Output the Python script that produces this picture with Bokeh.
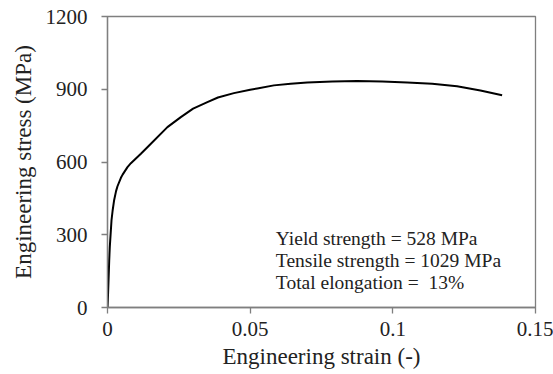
from bokeh.plotting import figure
from bokeh.models import Range1d, FixedTicker, CustomJSTickFormatter, Label, ColumnDataSource
from bokeh.embed import file_html
from bokeh.resources import INLINE

strain = [0.0, 0.0002, 0.0006, 0.0008, 0.0014, 0.0018, 0.0023, 0.003, 0.0035, 0.0047,
          0.0053, 0.007, 0.0082, 0.0117, 0.0152, 0.021, 0.0257, 0.030, 0.035, 0.0387,
          0.0443, 0.050, 0.0525, 0.0583, 0.0642, 0.070, 0.0788, 0.0875, 0.0963, 0.105,
          0.1138, 0.1225, 0.1307, 0.1383]
stress = [0, 57, 194, 249, 359, 400, 441, 480, 500, 535,
          548, 579, 595, 634, 675, 744, 785, 820, 847, 866,
          884, 898, 903, 916, 923, 928, 932, 934, 932, 928,
          923, 912, 895, 875]
x_ticks = [0, 0.05, 0.1, 0.15]
y_ticks = [0, 300, 600, 900, 1200]
notes = ["Yield strength = 528 MPa", "Tensile strength = 1029 MPa", "Total elongation =\u00a0 13%"]
note_x = [0.059, 0.059, 0.059]
note_y = [283, 193, 104]

FONT = "Liberation Serif"
TXT = "#222222"
AX = "#7f7f7f"

p = figure(width=553, height=374, output_backend="svg", toolbar_location=None,
           x_range=Range1d(0, 0.15), y_range=Range1d(0, 1200),
           min_border_left=107, min_border_right=18, min_border_top=16, min_border_bottom=67)
p.background_fill_color = "white"
p.border_fill_color = "white"
p.outline_line_color = AX
p.outline_line_width = 1.3
p.xgrid.visible = False
p.ygrid.visible = False

src = ColumnDataSource(dict(x=strain, y=stress))
p.line("x", "y", source=src, line_color="black", line_width=2, line_join="round")

for ax, ticks in ((p.xaxis[0], x_ticks), (p.yaxis[0], y_ticks)):
    ax.ticker = FixedTicker(ticks=ticks)
    ax.minor_tick_line_color = None
    ax.major_tick_in = 0
    ax.major_tick_out = 6
    ax.axis_line_color = AX
    ax.axis_line_width = 1.3
    ax.major_tick_line_color = AX
    ax.major_tick_line_width = 1.3
    ax.major_label_text_font = FONT
    ax.major_label_text_font_size = "21px"
    ax.major_label_text_color = TXT
    ax.axis_label_text_font = FONT
    ax.axis_label_text_font_size = "23px"
    ax.axis_label_text_font_style = "normal"
    ax.axis_label_text_color = TXT

p.xaxis.formatter = CustomJSTickFormatter(code="return String(Number(tick.toFixed(4)));")
p.xaxis.axis_label = "Engineering strain (-)"
p.yaxis.axis_label = "Engineering stress (MPa)"
p.xaxis.major_label_standoff = 8
p.yaxis.major_label_standoff = 14
p.xaxis.axis_label_standoff = 5
p.yaxis.axis_label_standoff = 7

for t, xv, yv in zip(notes, note_x, note_y):
    p.add_layout(Label(x=xv, y=yv, text=t, text_font=FONT, text_font_size="19.5px",
                       text_color=TXT, text_baseline="alphabetic"))

open("out.html", "w").write(file_html(p, INLINE))
